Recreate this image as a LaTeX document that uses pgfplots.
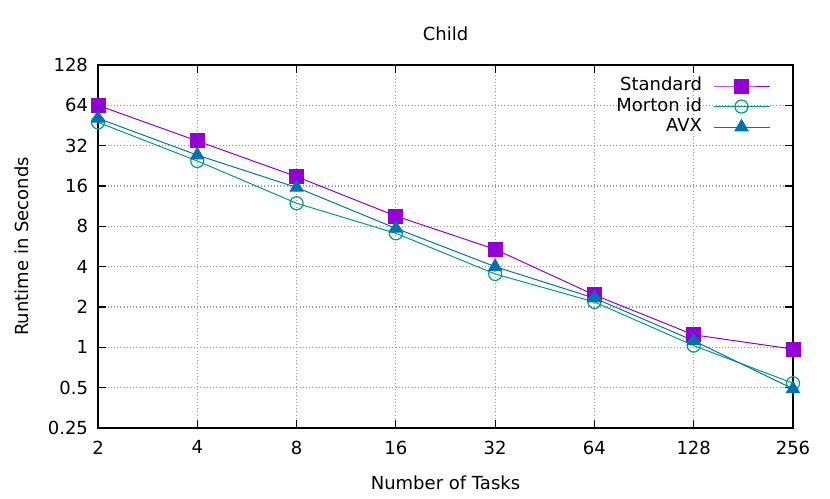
\documentclass[border=0pt]{standalone}
\usepackage{fontspec}
\setmainfont{DejaVu Sans}
\usepackage{pgfplots}
\pgfplotsset{compat=1.18}

\definecolor{cstd}{HTML}{9400D3}
\definecolor{cmor}{HTML}{009E73}
\definecolor{cavx}{HTML}{0072B2}

\newcommand{\gfont}{\fontsize{13.5}{16}\selectfont}

\begin{document}
\begin{tikzpicture}
\begin{loglogaxis}[
  scale only axis,
  width=521.25pt, height=272.25pt,
  log basis x=2, log basis y=2,
  xmin=2, xmax=256, ymin=0.25, ymax=128,
  xtick={2,4,8,16,32,64,128,256},
  xticklabels={2,4,8,16,32,64,128,256},
  ytick={0.25,0.5,1,2,4,8,16,32,64,128},
  yticklabels={0.25,0.5,1,2,4,8,16,32,64,128},
  /pgf/number format/assume math mode=true,
  tick align=inside,
  major tick length=6pt,
  minor tick num=0,
  axis line style={line width=1pt, black},
  every tick/.style={black, line width=0.8pt},
  grid=major,
  major grid style={dotted, gray!80, line width=0.8pt},
  tick label style={font=\gfont},
  xticklabel style={yshift=-6pt},
  yticklabel style={xshift=-4pt},
  label style={font=\gfont},
  every axis title shift=0pt,
  title style={font=\gfont, at={(axis description cs:0.5,1.0868)}, anchor=center, yshift=0pt},
  title={Child},
  xlabel={Number of Tasks},
  ylabel={Runtime in Seconds},
  xlabel style={at={(axis description cs:0.5,-0.1515)}, anchor=center},
  ylabel style={at={(axis description cs:-0.1094,0.5)}, anchor=center},
  clip=false,
  legend plot pos=right,
  legend cell align=right,
  legend style={
    at={(axis description cs:0.9669,0.966)}, anchor=north east,
    draw=none, fill=none, inner sep=0pt, outer sep=0pt,
    font=\gfont, column sep=8.25pt, row sep=2.4pt,
    nodes={inner sep=0pt, text height=10pt, text depth=3pt},
  },
  legend image code/.code={
    \draw[mark repeat=2, mark phase=2] plot coordinates {(0pt,0pt) (21pt,0pt) (42pt,0pt)};
  },
  every axis plot/.append style={line width=0.75pt},
]
\addplot[cstd, mark=square*, mark size=5.25pt, mark options={solid, fill=cstd}] coordinates {
  (2,64.0) (4,34.7) (8,18.8) (16,9.55) (32,5.39) (64,2.46) (128,1.24) (256,0.97)
};
\addlegendentry{Standard}
\addplot[cmor, mark=o, mark size=4.9pt, mark options={solid, line width=0.9pt}] coordinates {
  (2,47.8) (4,24.6) (8,11.9) (16,7.1) (32,3.53) (64,2.18) (128,1.03) (256,0.54)
};
\addlegendentry{Morton id}
\addplot[cavx, mark=triangle*, mark size=5.6pt, mark options={solid, fill=cavx}] coordinates {
  (2,51.2) (4,27.2) (8,15.6) (16,7.73) (32,4.0) (64,2.33) (128,1.12) (256,0.49)
};
\addlegendentry{AVX}
\coordinate (sw) at (rel axis cs:0,0);
\coordinate (ne) at (rel axis cs:1,1);
\end{loglogaxis}
\pgfresetboundingbox
\path ([shift={(-73.5pt,-52.5pt)}]sw) rectangle ([shift={(27.75pt,48.75pt)}]ne);
\end{tikzpicture}
\end{document}
